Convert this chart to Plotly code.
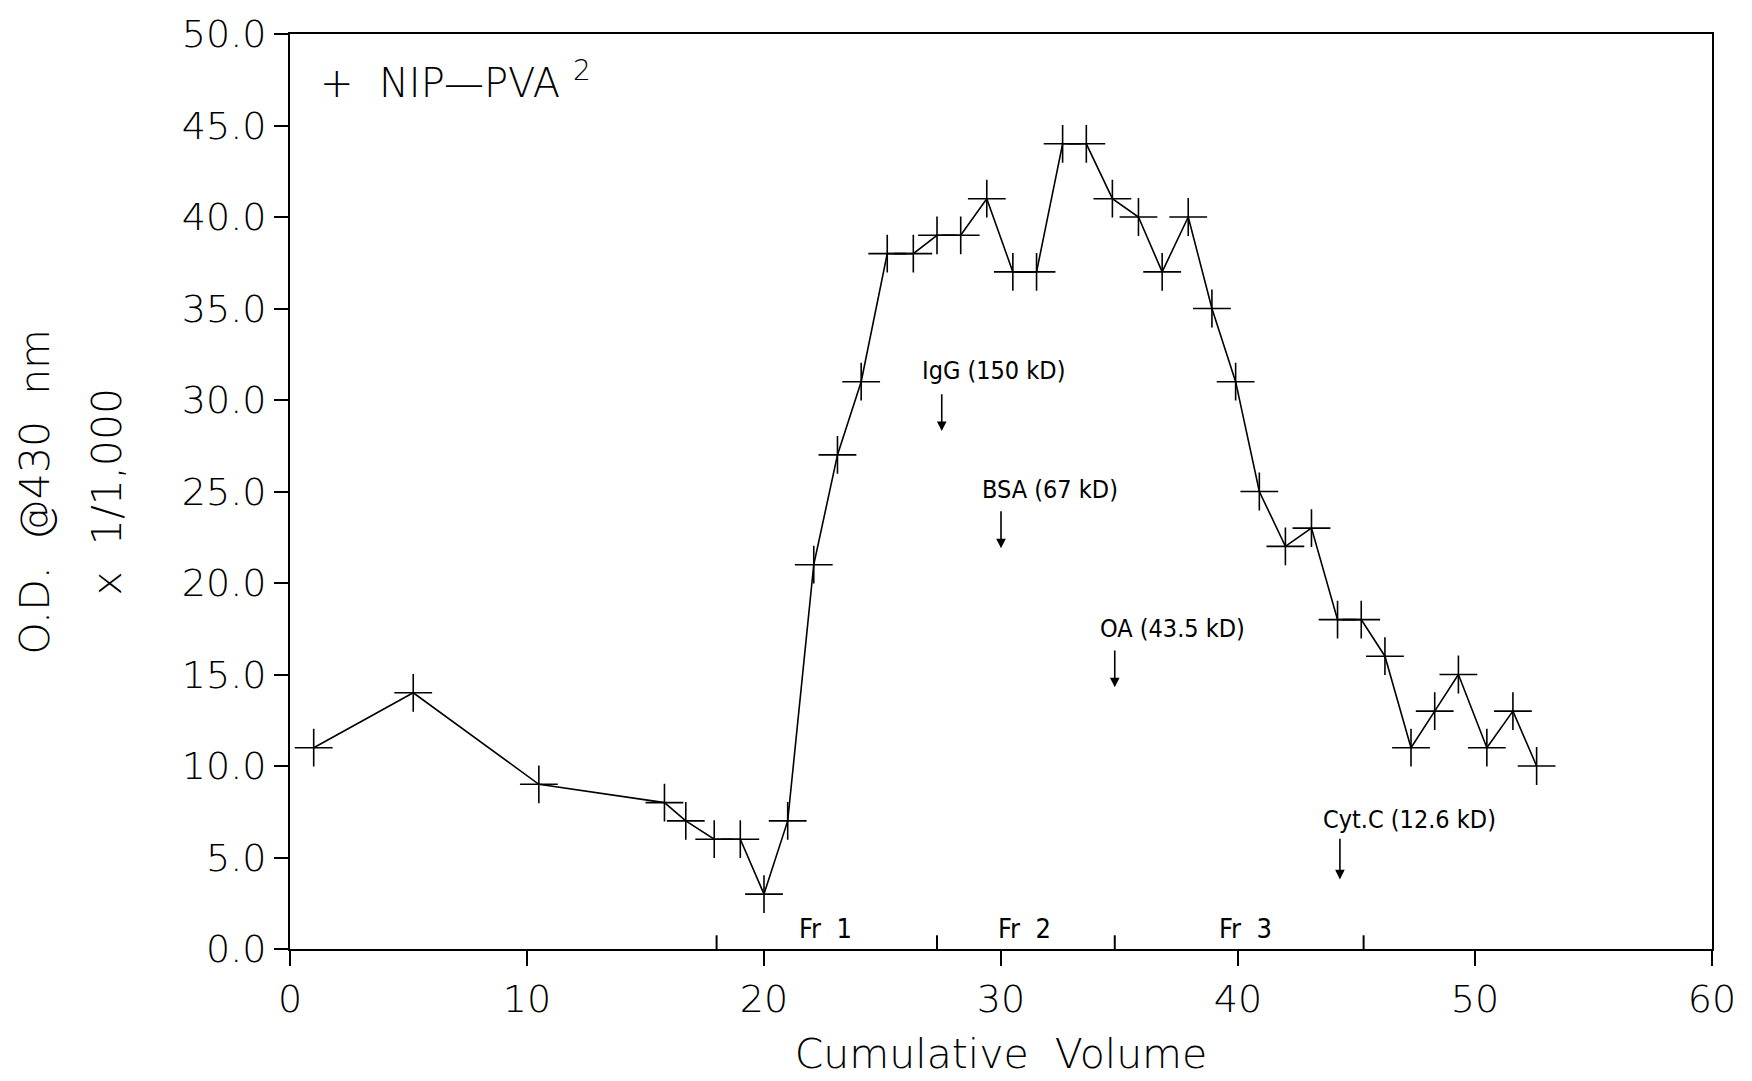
import plotly.graph_objects as go

# Elution profile: cumulative volume vs O.D. at 430 nm (x 1/1,000)
volume = [1.0, 5.2, 10.5, 15.8, 16.7, 17.9, 19.0, 20.0, 21.0, 22.1, 23.1, 24.1,
          25.2, 26.3, 27.3, 28.3, 29.4, 30.5, 31.5, 32.6, 33.6, 34.7, 35.8, 36.8,
          37.9, 38.9, 39.9, 40.9, 42.0, 43.1, 44.2, 45.2, 46.2, 47.3, 48.3, 49.3,
          50.5, 51.6, 52.6]
od430 = [11.0, 14.0, 9.0, 8.0, 7.0, 6.0, 6.0, 3.0, 7.0, 21.0, 27.0, 31.0,
         38.0, 38.0, 39.0, 39.0, 41.0, 37.0, 37.0, 44.0, 44.0, 41.0, 40.0, 37.0,
         40.0, 35.0, 31.0, 25.0, 22.0, 23.0, 18.0, 18.0, 16.0, 11.0, 13.0, 15.0,
         11.0, 13.0, 10.0]

# Fraction boundaries and labels along the volume axis
fraction_bounds = [18.0, 27.3, 34.8, 45.3]
fraction_names = ["Fr  1", "Fr  2", "Fr  3"]
fraction_label_x = [22.6, 31.0, 40.3]
fraction_label_y = 1.1

# Molecular-weight standards: arrow position and label
standard_names = ["IgG (150 kD)", "BSA (67 kD)", "OA (43.5 kD)", "Cyt.C (12.6 kD)"]
standard_x = [27.5, 30.0, 34.8, 44.3]
standard_arrow_top = [30.4, 24.0, 16.4, 6.1]
standard_arrow_tip = [28.3, 21.9, 14.3, 3.8]
standard_label_x = [26.6, 29.1, 34.1, 43.5]
standard_label_y = [31.6, 25.1, 17.5, 7.1]

x_ticks = [0, 10, 20, 30, 40, 50, 60]
y_ticks = [0, 5, 10, 15, 20, 25, 30, 35, 40, 45, 50]

AXIS_FONT = dict(family="DejaVu Sans", size=38, color="black", weight=300)
TITLE_FONT = dict(family="DejaVu Sans", size=41, color="black", weight=300)
HAND_FONT = dict(family="DejaVu Sans Condensed, DejaVu Sans", size=25, color="black")
FR_FONT = dict(family="DejaVu Sans Condensed, DejaVu Sans", size=27, color="black")

fig = go.Figure()
fig.add_trace(go.Scatter(
    x=volume, y=od430, mode="lines+markers",
    line=dict(color="black", width=1.6),
    marker=dict(symbol="cross-thin", size=27, line=dict(color="black", width=1.6)),
    showlegend=False,
))

shapes = []
for b in fraction_bounds:
    shapes.append(dict(type="line", xref="x", yref="y", x0=b, x1=b, y0=0, y1=0.75,
                       line=dict(color="black", width=2)))

annotations = []
for name, lx in zip(fraction_names, fraction_label_x):
    annotations.append(dict(x=lx, y=fraction_label_y, xref="x", yref="y", text=name,
                            showarrow=False, font=FR_FONT, xanchor="center", yanchor="middle"))

for name, sx, top, tip, lx, ly in zip(standard_names, standard_x, standard_arrow_top,
                                      standard_arrow_tip, standard_label_x, standard_label_y):
    annotations.append(dict(x=lx, y=ly, xref="x", yref="y", text=name, showarrow=False,
                            font=HAND_FONT, xanchor="left", yanchor="middle"))
    annotations.append(dict(x=sx, y=tip, ax=sx, ay=top, xref="x", yref="y",
                            axref="x", ayref="y", text="", showarrow=True,
                            arrowhead=2, arrowsize=1.2, arrowwidth=1.6, arrowcolor="black"))

# Legend entry drawn as text in the upper-left corner
annotations.append(dict(x=0, y=1, xref="paper", yref="paper", xshift=28, yshift=-18,
                        text="+  NIP—PVA <sup>2</sup>", showarrow=False,
                        font=dict(family="DejaVu Sans", size=40, color="black", weight=300),
                        xanchor="left", yanchor="top"))

# Two-line y-axis title
annotations.append(dict(x=0, y=0.5, xref="paper", yref="paper", xshift=-256,
                        text="O.D.  @430  nm", textangle=-90, showarrow=False,
                        font=TITLE_FONT, xanchor="center", yanchor="middle"))
annotations.append(dict(x=0, y=0.5, xref="paper", yref="paper", xshift=-184,
                        text="x  1/1,000", textangle=-90, showarrow=False,
                        font=TITLE_FONT, xanchor="center", yanchor="middle"))

fig.update_layout(
    width=1752, height=1081,
    margin=dict(l=290, r=40, t=33, b=131),
    paper_bgcolor="white", plot_bgcolor="white",
    shapes=shapes, annotations=annotations,
    xaxis=dict(
        range=[0, 60], tickvals=x_ticks, ticktext=[str(v) for v in x_ticks],
        showgrid=False, zeroline=False, showline=True, mirror=True,
        linecolor="black", linewidth=2, ticks="outside", ticklen=15, tickwidth=1.6,
        tickcolor="black", tickfont=AXIS_FONT,
        title=dict(text="Cumulative  Volume", font=TITLE_FONT, standoff=20),
    ),
    yaxis=dict(
        range=[0, 50], tickvals=y_ticks, tickformat=".1f",
        showgrid=False, zeroline=False, showline=True, mirror=True,
        linecolor="black", linewidth=2, ticks="outside", ticklen=14, tickwidth=1.6,
        tickcolor="black", tickfont=AXIS_FONT,
    ),
)

fig.write_html("out.html")
